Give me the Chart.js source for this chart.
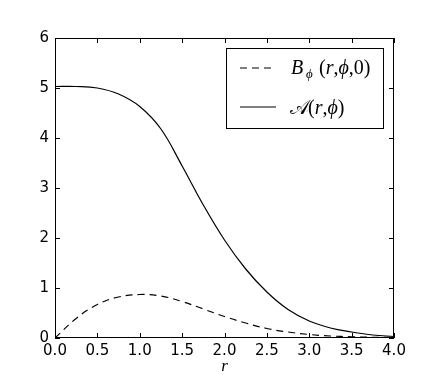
<!DOCTYPE html>
<html><head><meta charset="utf-8">
<script src="https://cdn.jsdelivr.net/npm/chart.js@4/dist/chart.umd.min.js"></script>
<style>html,body{margin:0;padding:0;background:#fff}canvas{display:block}</style>
</head><body>
<canvas id="c" width="437" height="375"></canvas>
<script>
// Data
const rValues = [0, 0.25, 0.5, 0.75, 1.0, 1.25, 1.5, 1.75, 2.0, 2.25, 2.5, 2.75, 3.0, 3.25, 3.5, 3.75, 4.0];
const bPhiValues = [0, 0.39, 0.67, 0.82, 0.87, 0.84, 0.73, 0.58, 0.43, 0.30, 0.19, 0.12, 0.07, 0.04, 0.025, 0.015, 0.01];
const aValues = [5.03, 5.03, 5.00, 4.88, 4.63, 4.18, 3.44, 2.66, 1.96, 1.38, 0.92, 0.57, 0.34, 0.20, 0.12, 0.06, 0.03];
const xTickValues = [0, 0.5, 1.0, 1.5, 2.0, 2.5, 3.0, 3.5, 4.0];
const yTickValues = [0, 1, 2, 3, 4, 5, 6];
const xAxisTitle = "r";
const seriesLabels = ["B_ϕ (r,ϕ,0)", "𝒜(r,ϕ)"];

const SERIF = "'Liberation Serif', 'DejaVu Serif', serif";
const TICKFONT = "'DejaVu Sans', sans-serif";

function pts(ys){ return rValues.map((r,i)=>({x:r,y:ys[i]})); }

const framePlugin = {
  id:'frame',
  afterDraw(chart){
    const ctx = chart.ctx, a = chart.chartArea;
    const xs = chart.scales.x, ys = chart.scales.y;
    ctx.save();
    ctx.strokeStyle = '#000';
    ctx.lineWidth = 1;
    ctx.strokeRect(Math.round(a.left)+0.5, Math.round(a.top)+0.5, Math.round(a.right-a.left)-1, Math.round(a.bottom-a.top)-1);
    const L = 5;
    ctx.beginPath();
    xTickValues.forEach(v=>{
      const px = Math.round(xs.getPixelForValue(v))+0.5;
      ctx.moveTo(px, a.bottom); ctx.lineTo(px, a.bottom-L);
      ctx.moveTo(px, a.top); ctx.lineTo(px, a.top+L);
    });
    yTickValues.forEach(v=>{
      const py = Math.round(ys.getPixelForValue(v))+0.5;
      ctx.moveTo(a.left, py); ctx.lineTo(a.left+L, py);
      ctx.moveTo(a.right, py); ctx.lineTo(a.right-L, py);
    });
    ctx.stroke();

    // x axis title
    ctx.fillStyle = '#000';
    ctx.font = "italic 17px " + SERIF;
    ctx.textAlign = 'center';
    ctx.textBaseline = 'alphabetic';
    ctx.fillText(xAxisTitle, (a.left+a.right)/2, 371);

    // legend
    const bx = 226.5, by = 48.5, bw = 157, bh = 80;
    ctx.fillStyle = '#fff';
    ctx.fillRect(bx, by, bw, bh);
    ctx.strokeRect(bx, by, bw, bh);
    const F = "20px "+SERIF, FI = "italic 20px "+SERIF;
    const rows = [
      {y:68, dash:[7,5], base:74, segs:[
        ["B",FI,0,291],["ϕ","italic 13px "+SERIF,4,306],
        ["(",F,0,319],["r",FI,0],[",",F,0],["ϕ",FI,0],[",",F,0],["0",F,0],[")",F,0]]},
      {y:107, dash:[], base:114, segs:[
        ["𝒜",F,0,290],["(",F,0,308],["r",FI,0],[",",F,0],["ϕ",FI,0],[")",F,0]]}
    ];
    rows.forEach(row=>{
      ctx.save();
      ctx.strokeStyle='#000'; ctx.lineWidth=1.2; ctx.setLineDash(row.dash);
      ctx.beginPath(); ctx.moveTo(240,row.y); ctx.lineTo(276,row.y); ctx.stroke();
      ctx.restore();
      let x = 291;
      ctx.fillStyle='#000'; ctx.textAlign='left';
      row.segs.forEach(([t,f,dy,ax])=>{
        if (ax !== undefined) x = ax;
        ctx.font=f; ctx.fillText(t,x,row.base+dy); x += ctx.measureText(t).width;
      });
    });
    ctx.restore();
  }
};

new Chart(document.getElementById('c'), {
  type:'line',
  data:{datasets:[
    {label:seriesLabels[0], data:pts(bPhiValues), borderColor:'#000', borderWidth:1.2, borderDash:[7,5], pointRadius:0, fill:false, tension:0.4},
    {label:seriesLabels[1], data:pts(aValues), borderColor:'#000', borderWidth:1.2, pointRadius:0, fill:false, tension:0.4}
  ]},
  options:{
    responsive:false, animation:false, devicePixelRatio:1,
    layout:{padding:{top:38,right:43,left:0,bottom:0}},
    plugins:{legend:{display:false}, tooltip:{enabled:false}},
    scales:{
      x:{type:'linear', min:0, max:4, border:{display:false},
         grid:{display:false, drawTicks:false},
         afterBuildTicks(s){ s.ticks = xTickValues.map(v=>({value:v})); },
         afterFit(s){ s.height = 37; },
         ticks:{color:'#000', font:{family:TICKFONT,size:15}, padding:4, maxRotation:0, autoSkip:false,
                callback:v=>Number(v).toFixed(1)}},
      y:{type:'linear', min:0, max:6, border:{display:false},
         grid:{display:false, drawTicks:false},
         afterBuildTicks(s){ s.ticks = yTickValues.map(v=>({value:v})); },
         afterFit(s){ s.width = 55; },
         ticks:{color:'#000', font:{family:TICKFONT,size:15}, padding:6, autoSkip:false,
                callback:v=>String(v)}}
    }
  },
  plugins:[framePlugin]
});
</script>
</body></html>
